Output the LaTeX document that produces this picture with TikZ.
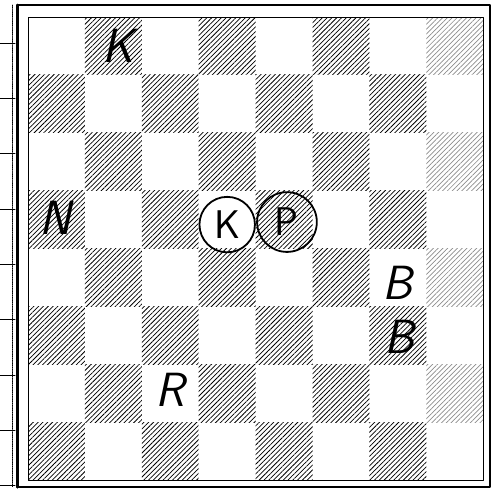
\documentclass[tikz,border=0pt]{standalone}
\usepackage{fontspec}
\usetikzlibrary{calc,patterns.meta}
\tikzset{
  square/.style={
    minimum width=2.0cm,
    minimum height=2.035cm,
    inner sep=0pt,
    draw=none,
  },
  sqlight/.style={square},
  sqdark/.style={square, pattern={Lines[angle=45, distance=3.4pt, line width=0.75pt]}, pattern color=black},
  sqfaint/.style={square, pattern={Lines[angle=45, distance=3.4pt, line width=0.7pt]}, pattern color=black!45},
  piece/.style={
    inner sep=0pt,
    font=\sffamily\slshape\fontsize{48}{48}\selectfont,
  },
  ringed/.style={
    piece,
    circle,
    draw,
    line width=1.8pt,
    font=\sffamily\fontsize{40}{40}\selectfont,
  },
  frameline/.style={line width=1.6pt},
  tick/.style={line width=0.7pt},
}

\begin{document}
\begin{tikzpicture}[line cap=round, line join=round]
  \useasboundingbox (0,0) rectangle (17.43,17.19);

  % squares of the board
  \foreach \col in {0,...,7} {
    \foreach \row in {0,...,7} {
      \pgfmathtruncatemacro{\isdark}{mod(\col + \row, 2)}
      \pgfmathsetmacro{\x}{0.984 + \col * 2.0 + 1.0}
      \pgfmathsetmacro{\y}{16.59 - \row * 2.035 - 1.0175}
      \ifnum\isdark=0
        \node[sqlight] (sq-\col-\row) at (\x, \y) {};
      \else
        \ifnum\col=7
          \node[sqfaint] (sq-\col-\row) at (\x, \y) {};
        \else
          \node[sqdark] (sq-\col-\row) at (\x, \y) {};
        \fi
      \fi
    }
  }
  \draw[line width=0.6pt] (sq-0-0.north west) rectangle (sq-7-7.south east);

  % outer frame and margin ticks
  \draw[frameline] (0.60,17.01) -- (17.22,17.01) -- (17.22,0.07) -- (0.60,0.07);
  \draw[line width=3pt] (0.60,17.01) -- (0.60,0.07);
  \draw[densely dotted, line width=0.8pt] (0.42,17.01) -- (0.42,0.07);
  \foreach \k in {0,...,8} {
    \pgfmathsetmacro{\ty}{15.68 - \k * 1.944}
    \draw[tick] (0,\ty) -- (0.53,\ty);
  }

  % pieces
  \node[piece] (bk) at ($(sq-1-0)+(0.15,0)$) {K};
  \node[piece] (kn) at ($(sq-0-3)+(-0.05,0.05)$) {N};
  \node[ringed, minimum size=1.95cm] (wk) at ($(sq-3-3)+(0,-0.17)$) {K};
  \node[ringed, minimum size=2.1cm] (wp) at ($(sq-4-3)+(0.1,-0.08)$) {P};
  \node[piece] (bb1) at ($(sq-6-4)+(0,-0.17)$) {B};
  \node[piece] (bb2) at ($(sq-6-5)+(0.05,-0.03)$) {B};
  \node[piece] (rk) at ($(sq-2-6)+(0,0.14)$) {R};
\end{tikzpicture}
\end{document}
